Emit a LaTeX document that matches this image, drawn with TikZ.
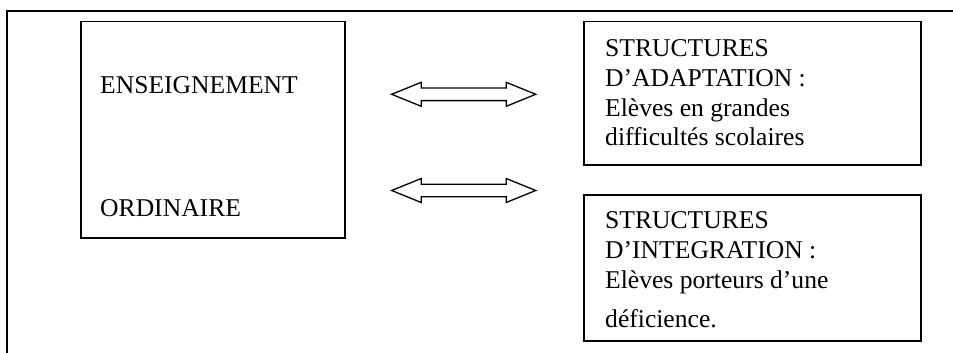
\documentclass[tikz,border=0pt]{standalone}
\usepackage{fontspec}
\setmainfont{Liberation Serif}
\usetikzlibrary{calc}
\begin{document}
\begin{tikzpicture}[x=1pt,y=-1pt,
  frame/.style={line width=1.5pt,draw=black},
  box/.style={line width=1.5pt,draw=black},
  txt/.style={anchor=base west,inner sep=0pt,font=\fontsize{25.6}{29.5}\selectfont},
  dblarrow/.style={line width=1.3pt,draw=black,line join=miter}]
\useasboundingbox (0,0) rectangle (953,353);
\fill[white] (0,0) rectangle (953,353);
% outer frame (top and left only)
\draw[frame] (7,353) -- (7,11) -- (953,11);
% boxes
\node[box,anchor=north west,minimum width=264pt,minimum height=216pt,inner sep=0pt] (ens) at (80,21) {};
\node[box,anchor=north west,minimum width=337pt,minimum height=143pt,inner sep=0pt] (adapt) at (583,21) {};
\node[box,anchor=north west,minimum width=337pt,minimum height=146pt,inner sep=0pt] (integ) at (583,194) {};
% texts
\node[txt] (t1) at (100,93) {ENSEIGNEMENT};
\node[txt] (t2) at (100,216) {ORDINAIRE};
\node[txt] (a1) at (605,56.7) {STRUCTURES};
\node[txt] (a2) at (605,86) {D’ADAPTATION :};
\node[txt] (a3) at (605,116) {Elèves en grandes};
\node[txt] (a4) at (605,145) {difficultés scolaires};
\node[txt] (b1) at (605,228) {STRUCTURES};
\node[txt] (b2) at (605,258) {D’INTEGRATION :};
\node[txt] (b3) at (605,288) {Elèves porteurs d’une};
\node[txt] (b4) at (605,327) {déficience.};
% double arrows
\coordinate (arr1) at (463.7,94.3);
\coordinate (arr2) at (463.7,190.5);
\foreach \c in {arr1,arr2}{
\begin{scope}[shift={(\c)}]
\draw[dblarrow] (-72,0) -- (-42.5,-12) -- (-42.5,-6.3) -- (42.5,-6.3) -- (42.5,-12) -- (72,0) -- (42.5,12) -- (42.5,6.3) -- (-42.5,6.3) -- (-42.5,12) -- cycle;
\end{scope}}
\end{tikzpicture}
\end{document}
